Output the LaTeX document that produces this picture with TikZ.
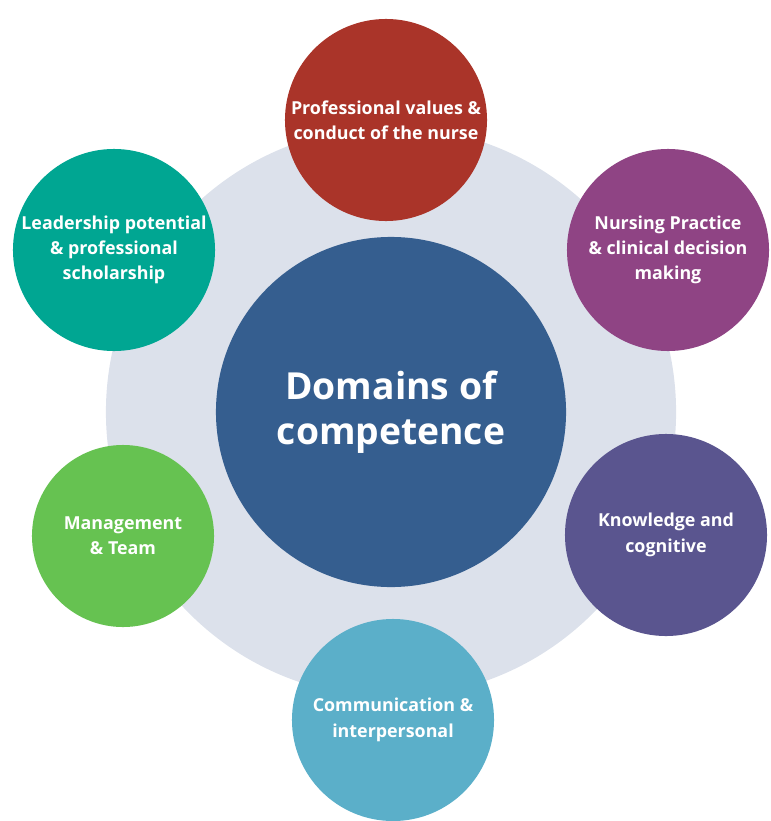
\documentclass[tikz,border=0pt]{standalone}
\usepackage{fontspec}
\setmainfont{Open Sans}

\definecolor{ringgrey}{HTML}{DCE1EB}
\definecolor{coreblue}{HTML}{355E8F}
\definecolor{valuesred}{HTML}{AA3429}
\definecolor{practicepurple}{HTML}{8F4484}
\definecolor{knowindigo}{HTML}{5A558F}
\definecolor{commblue}{HTML}{5BAFC9}
\definecolor{mgmtgreen}{HTML}{66C251}
\definecolor{leadteal}{HTML}{00A692}

\begin{document}
\begin{tikzpicture}[x=0.025cm,y=-0.025cm,
  every node/.style={circle,draw=none,text=white,align=center,inner sep=0pt},
  domain/.style={fill=#1,minimum size=5.05cm,
    font=\bfseries\fontsize{12.7}{18}\selectfont}]

  \useasboundingbox (0,0) rectangle (770,821);

  % centres
  \coordinate (mid)   at (391,412);
  \coordinate (vals)  at (386,120);
  \coordinate (prac)  at (668,250);
  \coordinate (know)  at (666,535);
  \coordinate (comm)  at (393,720);
  \coordinate (mgmt)  at (123,536);
  \coordinate (lead)  at (114,250);

  % grey ring behind everything
  \node (ring) [fill=ringgrey,minimum size=14.25cm] at (mid) {};

  \node (core) [fill=coreblue,minimum size=8.75cm,
    font=\bfseries\fontsize{26.5}{32}\selectfont] at (mid) {Domains of\\competence};

  % outer domains
  \node (values)   [domain=valuesred]      at (vals) {Professional values \&\\conduct of the nurse};
  \node (practice) [domain=practicepurple] at (prac) {Nursing Practice\\\& clinical decision\\making};
  \node (knowledge)[domain=knowindigo]     at (know) {Knowledge and\\cognitive};
  \node (commun)   [domain=commblue]       at (comm) {Communication \&\\interpersonal};
  \node (manage)   [domain=mgmtgreen,minimum size=4.55cm] at (mgmt) {Management\\\& Team};
  \node (leader)   [domain=leadteal]       at (lead) {Leadership potential\\\& professional\\scholarship};
\end{tikzpicture}
\end{document}
